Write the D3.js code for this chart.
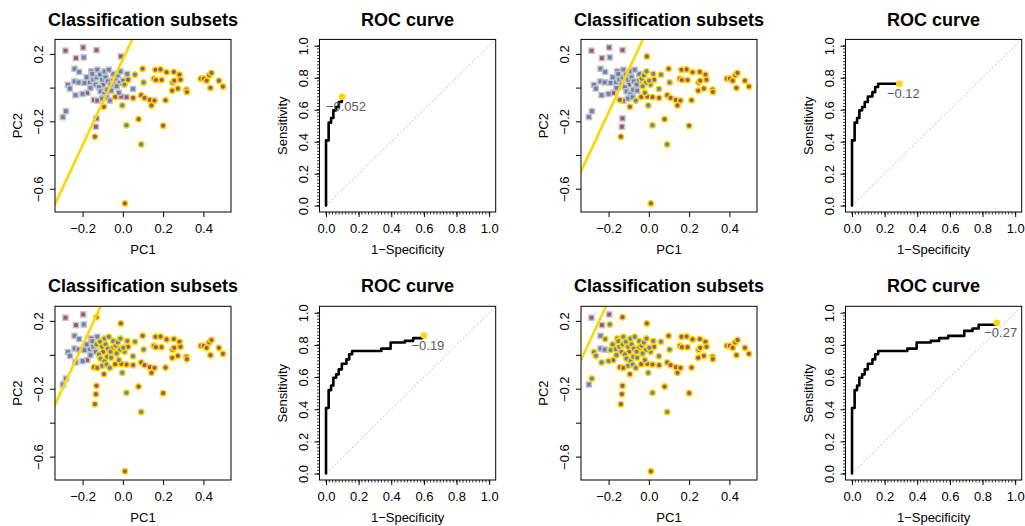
<!DOCTYPE html>
<html>
<head>
<meta charset="utf-8">
<script src="https://cdn.jsdelivr.net/npm/d3@7"></script>
<style>
  body { margin: 0; background: #fff; }
  svg { display: block; font-family: "Liberation Sans", Arial, Helvetica, sans-serif; }
</style>
</head>
<body>
<svg id="chart" width="1025" height="526"></svg>
<script>
// ---- scatter data (PC1, PC2, true class, first subset where the point is predicted positive; 5 = never)
var pc1 = [
  0.098, 0.162, 0.187, 0.154, 0.164, 0.192, 0.217, 0.253, 0.281, 0.286,
  0.247, 0.255, 0.245, 0.273, 0.316, 0.318, 0.387, 0.402, 0.416, 0.429,
  0.440, 0.435, 0.477, 0.497, -0.038, 0.051, 0.091, 0.108, 0.134, 0.157,
  0.142, 0.212, 0.078, 0.200, 0.010, -0.094, -0.139, 0.026,
  0.060, 0.103, -0.003, 0.018, 0.091, 0.008,
  -0.285, -0.197, -0.131, -0.233, -0.010, -0.157, -0.177, -0.098, -0.144, -0.127,
  -0.048, -0.008, 0.018, -0.131, -0.134,
  -0.194, -0.240, -0.217, -0.127, 0.022, 0.050, -0.273, -0.263, -0.240, -0.220,
  -0.235, -0.200, -0.190, -0.164, -0.147, -0.131, -0.114, -0.103, -0.086, -0.075,
  -0.061, -0.048, -0.036, -0.025, -0.015, 0.002, -0.136, -0.119, -0.111, -0.091,
  -0.078, -0.058, -0.103, -0.081, -0.065, -0.161, -0.031, -0.012, -0.020, -0.180,
  -0.152, -0.091, -0.070, -0.283, -0.298
];
var pc2 = [
  0.112, 0.106, 0.108, 0.053, 0.045, 0.045, 0.091, 0.093, 0.077, 0.047,
  0.030, 0.041, -0.018, -0.006, -0.012, -0.026, 0.053, 0.053, 0.041, 0.073,
  0.087, -0.002, 0.041, 0.006, -0.055, -0.061, -0.045, -0.061, -0.073, -0.077,
  -0.106, -0.075, -0.187, -0.226, -0.687, -0.114, -0.291, 0.047,
  0.077, 0.031, -0.106, -0.224, -0.337, 0.018,
  0.219, 0.238, 0.222, 0.175, 0.185, 0.096, -0.031, 0.018, -0.073, -0.077,
  0.041, -0.053, -0.057, -0.183, -0.232,
  0.179, 0.112, 0.093, 0.106, 0.081, -0.008, 0.016, -0.006, 0.037, 0.031,
  -0.045, -0.037, 0.028, 0.033, 0.047, 0.061, 0.077, 0.047, 0.061, 0.037,
  0.018, 0.081, 0.053, 0.073, 0.028, 0.041, 0.018, 0.002, -0.022, -0.037,
  -0.012, -0.018, -0.065, -0.057, -0.077, -0.002, 0.008, 0.096, -0.031, 0.061,
  0.081, 0.096, 0.106, -0.140, -0.175
];
var truth = [
  "M","M","M","M","M","M","M","M","M","M",
  "M","M","M","M","M","M","M","M","M","M",
  "M","M","M","M","M","M","M","M","M","M",
  "M","M","M","M","M","M","M","M",
  "B","B","B","B","B","B",
  "M","M","M","M","M","M","M","M","M","M",
  "M","M","M","M","M",
  "B","B","B","B","B","B","B","B","B","B",
  "B","B","B","B","B","B","B","B","B","B",
  "B","B","B","B","B","B","B","B","B","B",
  "B","B","B","B","B","B","B","B","B","B",
  "B","B","B","B","B"
];
var posFrom = [
  1,1,1,1,1,1,1,1,1,1,
  1,1,1,1,1,1,1,1,1,1,
  1,1,1,1,1,1,1,1,1,1,
  1,1,1,1,1,1,1,1,
  1,1,1,1,1,1,
  5,5,3,5,2,4,4,3,2,3,
  3,2,2,3,3,
  4,5,4,4,2,2,4,4,5,5,
  4,4,4,4,4,3,3,3,3,3,
  3,3,2,2,2,2,4,3,3,3,
  3,3,3,3,2,4,2,2,2,4,
  4,3,3,4,5
];

// ---- classification lines (PC1 where line crosses PC2 = 0), common slope
var lineX0 = [-0.066, -0.142, -0.222, -0.325];
var lineSlope = 2.55;

// ---- ROC curve (1-specificity, sensitivity)
var rocFpr = [0, 0, 0.016, 0.016, 0.031, 0.031, 0.045, 0.045, 0.062, 0.062,
  0.078, 0.078, 0.097, 0.097, 0.125, 0.125, 0.142, 0.142, 0.16, 0.16,
  0.339, 0.339, 0.396, 0.396, 0.483, 0.483, 0.534, 0.534, 0.589, 0.589,
  0.688, 0.688, 0.739, 0.739, 0.776, 0.776, 0.887];
var rocTpr = [0, 0.408, 0.408, 0.519, 0.519, 0.548, 0.548, 0.596, 0.596, 0.617,
  0.617, 0.648, 0.648, 0.683, 0.683, 0.71, 0.71, 0.742, 0.742, 0.7625,
  0.7625, 0.777, 0.777, 0.815, 0.815, 0.825, 0.825, 0.842, 0.842, 0.856,
  0.856, 0.8875, 0.8875, 0.902, 0.902, 0.925, 0.925];

// threshold point shown on each ROC panel
var cutFpr = [0.098, 0.29, 0.60, 0.887];
var cutTpr = [0.681, 0.7625, 0.858, 0.9375];
var cutLabel = ["\u22120.052", "\u22120.12", "\u22120.19", "\u22120.27"];

// ---- axes
var pcXTicks = [-0.2, 0, 0.2, 0.4];
var pcXLabels = ["\u22120.2", "0.0", "0.2", "0.4"];
var pcYTicks = [-0.6, -0.4, -0.2, 0, 0.2];
var pcYLabels = ["\u22120.6", "", "\u22120.2", "", "0.2"];
var rocTicks = [0, 0.2, 0.4, 0.6, 0.8, 1.0];
var rocLabels = ["0.0", "0.2", "0.4", "0.6", "0.8", "1.0"];

var colBlue = "#6a80b8", colMauve = "#9c5872", gold = "#ffd700", sqEdge = "#c4c4c4";

var svg = d3.select("#chart");

// layout: two 2x2 figures side by side
var imgX = [0, 526, 0, 526];
var rowY = [[39.4, 212], [306.3, 480]];
var rowOf = [0, 0, 1, 1];
var titleY = [26, 291.5];

function addAxes(g, x, y, yb, xt, xl, yt, yl) {
  var ax = g.append("g").attr("transform", "translate(0," + yb[1] + ")")
    .call(d3.axisBottom(x).tickValues(xt).tickSize(5).tickFormat(function(d, i) { return xl[i]; }));
  ax.select(".domain").remove();
  ax.selectAll("text").attr("y", 21).attr("dy", 0).attr("font-size", 13).attr("fill", "#000")
    .attr("font-family", null);
  var ay = g.append("g").attr("transform", "translate(" + x.range()[0] + ",0)")
    .call(d3.axisLeft(y).tickValues(yt).tickSize(5).tickFormat(function(d, i) { return yl[i]; }));
  ay.select(".domain").remove();
  ay.selectAll("text").attr("x", 0).attr("dy", 0).attr("font-size", 13).attr("fill", "#000")
    .attr("font-family", null)
    .attr("text-anchor", "middle")
    .attr("transform", "translate(-11.7,0) rotate(-90)");
  g.selectAll(".tick line").attr("stroke", "#000");
}

function box(g, x, y) {
  var r = x.range(), s = y.range();
  g.append("rect").attr("x", r[0]).attr("y", s[1]).attr("width", r[1] - r[0]).attr("height", s[0] - s[1])
    .attr("fill", "none").attr("stroke", "#000").attr("stroke-width", 1);
}

function drawScatter(k) {
  var ox = imgX[k], yb = rowY[rowOf[k]];
  var x = d3.scaleLinear().domain([-0.337, 0.537]).range([ox + 55, ox + 231]);
  var y = d3.scaleLinear().domain([-0.738, 0.286]).range([yb[1], yb[0]]);
  var g = svg.append("g");

  g.append("clipPath").attr("id", "clipS" + k).append("rect")
    .attr("x", x.range()[0]).attr("y", yb[0]).attr("width", x.range()[1] - x.range()[0]).attr("height", yb[1] - yb[0]);

  var idx = d3.range(pc1.length);
  var squares = idx.filter(function(i) { return posFrom[i] > k + 1; });
  var circles = idx.filter(function(i) { return posFrom[i] <= k + 1; });

  g.selectAll("rect.sq").data(squares).enter().append("rect")
    .attr("x", function(i) { return x(pc1[i]) - 2.6; })
    .attr("y", function(i) { return y(pc2[i]) - 2.6; })
    .attr("width", 5.2).attr("height", 5.2)
    .attr("fill", function(i) { return truth[i] === "M" ? colMauve : colBlue; })
    .attr("stroke", sqEdge).attr("stroke-width", 1.4);

  g.selectAll("circle.pt").data(circles).enter().append("circle")
    .attr("cx", function(i) { return x(pc1[i]); })
    .attr("cy", function(i) { return y(pc2[i]); })
    .attr("r", 2.8)
    .attr("fill", function(i) { return truth[i] === "M" ? colMauve : colBlue; })
    .attr("stroke", gold).attr("stroke-width", 1.4);

  var ya = y.domain()[0], yz = y.domain()[1];
  g.append("line").attr("clip-path", "url(#clipS" + k + ")")
    .attr("x1", x(lineX0[k] + ya / lineSlope)).attr("y1", y(ya))
    .attr("x2", x(lineX0[k] + yz / lineSlope)).attr("y2", y(yz))
    .attr("stroke", gold).attr("stroke-width", 2.6);

  box(g, x, y);
  addAxes(g, x, y, yb, pcXTicks, pcXLabels, pcYTicks, pcYLabels);

  var cx = (x.range()[0] + x.range()[1]) / 2;
  g.append("text").attr("x", cx).attr("y", titleY[rowOf[k]]).attr("text-anchor", "middle")
    .attr("font-size", 18).attr("font-weight", "bold").text("Classification subsets");
  g.append("text").attr("x", cx).attr("y", yb[1] + 42).attr("text-anchor", "middle")
    .attr("font-size", 13).text("PC1");
  g.append("text").attr("transform", "translate(" + (x.range()[0] - 33) + "," + ((yb[0] + yb[1]) / 2) + ") rotate(-90)")
    .attr("text-anchor", "middle").attr("font-size", 13).text("PC2");
}

function drawRoc(k) {
  var ox = imgX[k], yb = rowY[rowOf[k]];
  var x = d3.scaleLinear().domain([-0.04, 1.04]).range([ox + 319.5, ox + 495.7]);
  var y = d3.scaleLinear().domain([-0.04, 1.04]).range([yb[1], yb[0]]);
  var g = svg.append("g");

  // chance diagonal from the origin to the top-right corner
  g.append("line")
    .attr("x1", x(0)).attr("y1", y(0)).attr("x2", x(1.04)).attr("y2", y(1.04))
    .attr("stroke", "#c0c0c0").attr("stroke-width", 1).attr("stroke-dasharray", "2,2");

  var pts = [];
  rocFpr.forEach(function(f, i) { if (f <= cutFpr[k] + 1e-9) pts.push([f, rocTpr[i]]); });
  pts.push([cutFpr[k], pts[pts.length - 1][1]]);
  g.append("path").datum(pts)
    .attr("d", d3.line().x(function(d) { return x(d[0]); }).y(function(d) { return y(d[1]); }))
    .attr("fill", "none").attr("stroke", "#000").attr("stroke-width", 2.6)
    .attr("stroke-linejoin", "round").attr("stroke-linecap", "round");

  g.append("circle").attr("cx", x(cutFpr[k])).attr("cy", y(cutTpr[k])).attr("r", 3.3).attr("fill", gold);
  g.append("text").attr("x", x(cutFpr[k]) + 4).attr("y", y(cutTpr[k]) + 14)
    .attr("text-anchor", "middle").attr("font-size", 13).attr("fill", "#5a5a5a").text(cutLabel[k]);

  // dense minor ticks along both axes
  var minor = d3.range(0, 1.0001, 0.02);
  g.selectAll("line.mx").data(minor).enter().append("line")
    .attr("x1", function(d) { return x(d); }).attr("x2", function(d) { return x(d); })
    .attr("y1", yb[1]).attr("y2", yb[1] + 2.5).attr("stroke", "#000").attr("stroke-width", 0.8);
  g.selectAll("line.my").data(minor).enter().append("line")
    .attr("y1", function(d) { return y(d); }).attr("y2", function(d) { return y(d); })
    .attr("x1", x.range()[0]).attr("x2", x.range()[0] - 2.5).attr("stroke", "#000").attr("stroke-width", 0.8);

  box(g, x, y);
  addAxes(g, x, y, yb, rocTicks, rocLabels, rocTicks, rocLabels);

  var cx = (x.range()[0] + x.range()[1]) / 2;
  g.append("text").attr("x", cx).attr("y", titleY[rowOf[k]]).attr("text-anchor", "middle")
    .attr("font-size", 18).attr("font-weight", "bold").text("ROC curve");
  g.append("text").attr("x", cx).attr("y", yb[1] + 42).attr("text-anchor", "middle")
    .attr("font-size", 13).text("1\u2212Specificity");
  g.append("text").attr("transform", "translate(" + (x.range()[0] - 33) + "," + ((yb[0] + yb[1]) / 2) + ") rotate(-90)")
    .attr("text-anchor", "middle").attr("font-size", 13).text("Sensitivity");
}

for (var k = 0; k < 4; k++) {
  drawScatter(k);
  drawRoc(k);
}
</script>
</body>
</html>
